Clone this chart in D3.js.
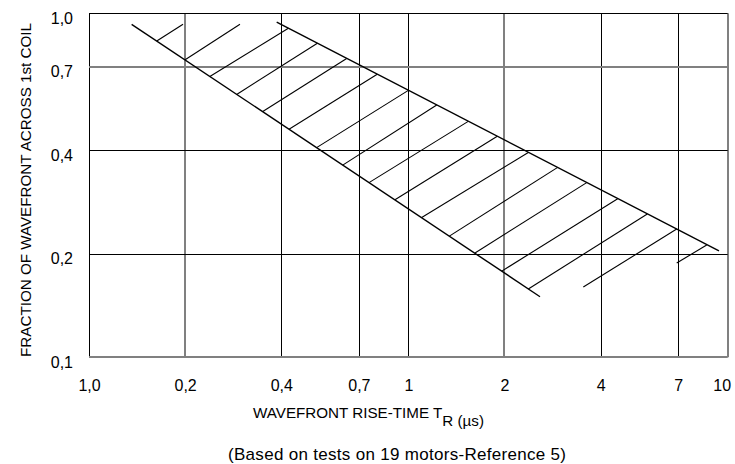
<!DOCTYPE html>
<html>
<head>
<meta charset="utf-8">
<script src="https://cdn.jsdelivr.net/npm/d3@7"></script>
<style>
  html, body { margin: 0; padding: 0; background: #fff; }
  svg { display: block; }
  text { font-family: "Liberation Sans", Arial, sans-serif; fill: #000; }
</style>
</head>
<body>
<svg id="chart" width="735" height="464"></svg>
<script>
// ---- data ----
const xTicks = [0.1, 0.2, 0.4, 0.7, 1, 2, 4, 7, 10];
const xTickLabels = ["1,0", "0,2", "0,4", "0,7", "1", "2", "4", "7", "10"];
const yTicks = [0.1, 0.2, 0.4, 0.7, 1.0];
const yTickLabels = ["0,1", "0,2", "0,4", "0,7", "1,0"];
const lowerBound = [[0.136, 0.929], [2.584, 0.150]];
const upperBound = [[0.387, 0.942], [9.39, 0.204]];
// hatch segments: [x0, y0, x1, y1]
const hatches = [
  [0.163, 0.831, 0.197, 0.929],
  [0.200, 0.733, 0.297, 0.929],
  [0.239, 0.655, 0.421, 0.905],
  [0.290, 0.581, 0.519, 0.818],
  [0.350, 0.518, 0.641, 0.739],
  [0.423, 0.460, 0.799, 0.665],
  [0.516, 0.407, 1.000, 0.597],
  [0.623, 0.362, 1.227, 0.541],
  [0.753, 0.322, 1.540, 0.485],
  [0.908, 0.287, 1.899, 0.439],
  [1.101, 0.255, 2.375, 0.394],
  [1.344, 0.225, 2.927, 0.356],
  [1.617, 0.201, 3.618, 0.322],
  [1.961, 0.178, 4.524, 0.289],
  [2.375, 0.158, 5.601, 0.261],
  [3.531, 0.160, 6.923, 0.236],
  [6.923, 0.188, 8.596, 0.212]
];
const grayX = [0.2, 2, 10];
const grayY = [0.1, 0.7];
const yTitle = "FRACTION OF WAVEFRONT ACROSS 1st COIL";
const xTitleMain = "WAVEFRONT RISE-TIME T";
const xTitleSub = "R (µs)";
const note = "(Based on tests on 19 motors-Reference 5)";

// ---- layout ----
const L = 89, R = 727.7, T = 13.3, B = 357.3;
const svg = d3.select("#chart");
const x = d3.scaleLog().domain([0.1, 10]).range([L, R]);
const y = d3.scaleLog().domain([0.1, 1]).range([B, T]);
const snap = v => Math.round(v) + 0.5;

// grid lines
const grid = svg.append("g");
xTicks.forEach(v => {
  const g = grayX.includes(v);
  const px = g ? Math.round(x(v)) : snap(x(v));
  grid.append("line")
    .attr("x1", px).attr("x2", px)
    .attr("y1", y(1)).attr("y2", y(0.1))
    .attr("stroke", g ? "#808080" : "#000")
    .attr("stroke-width", g ? 2 : 1);
});
yTicks.forEach(v => {
  const g = grayY.includes(v);
  const py = g ? Math.round(y(v)) : snap(y(v));
  grid.append("line")
    .attr("x1", x(0.1)).attr("x2", x(10))
    .attr("y1", py).attr("y2", py)
    .attr("stroke", g ? "#808080" : "#000")
    .attr("stroke-width", g ? 2 : 1);
});

// axes (labels only)
const xAxis = svg.append("g")
  .attr("transform", `translate(0,${B})`)
  .call(d3.axisBottom(x).tickValues(xTicks).tickSize(0).tickPadding(22)
    .tickFormat((d, i) => xTickLabels[i]));
xAxis.select(".domain").remove();
xAxis.selectAll("text").style("font-size", "16px")
  .style("font-family", "'Liberation Sans', Arial, sans-serif")
  .attr("dx", (d, i) => i === xTicks.length - 1 ? -6 : 0);

const yAxis = svg.append("g")
  .attr("transform", `translate(${L},0)`)
  .call(d3.axisLeft(y).tickValues(yTicks).tickSize(0).tickPadding(16)
    .tickFormat((d, i) => yTickLabels[i]));
yAxis.select(".domain").remove();
yAxis.selectAll("text").attr("dy", "0.63em").style("font-size", "16px")
  .style("font-family", "'Liberation Sans', Arial, sans-serif");

// band boundaries
const line = d3.line().x(d => x(d[0])).y(d => y(d[1]));
[lowerBound, upperBound].forEach(b => {
  svg.append("path").attr("d", line(b))
    .attr("fill", "none").attr("stroke", "#000").attr("stroke-width", 1.4);
});

// hatching
svg.append("g").selectAll("line").data(hatches).join("line")
  .attr("x1", d => x(d[0])).attr("y1", d => y(d[1]))
  .attr("x2", d => x(d[2])).attr("y2", d => y(d[3]))
  .attr("stroke", "#000").attr("stroke-width", 1.1);

// titles
svg.append("text")
  .attr("transform", "translate(31,190) rotate(-90)")
  .attr("text-anchor", "middle")
  .style("font-size", "15.2px")
  .text(yTitle);

const xt = svg.append("text")
  .attr("x", 253).attr("y", 418)
  .style("font-size", "15.2px");
xt.append("tspan").text(xTitleMain);
xt.append("tspan").attr("dy", 8).text(xTitleSub);

svg.append("text")
  .attr("x", 228).attr("y", 460)
  .style("font-size", "17px")
  .style("letter-spacing", "0.3px")
  .text(note);
</script>
</body>
</html>
